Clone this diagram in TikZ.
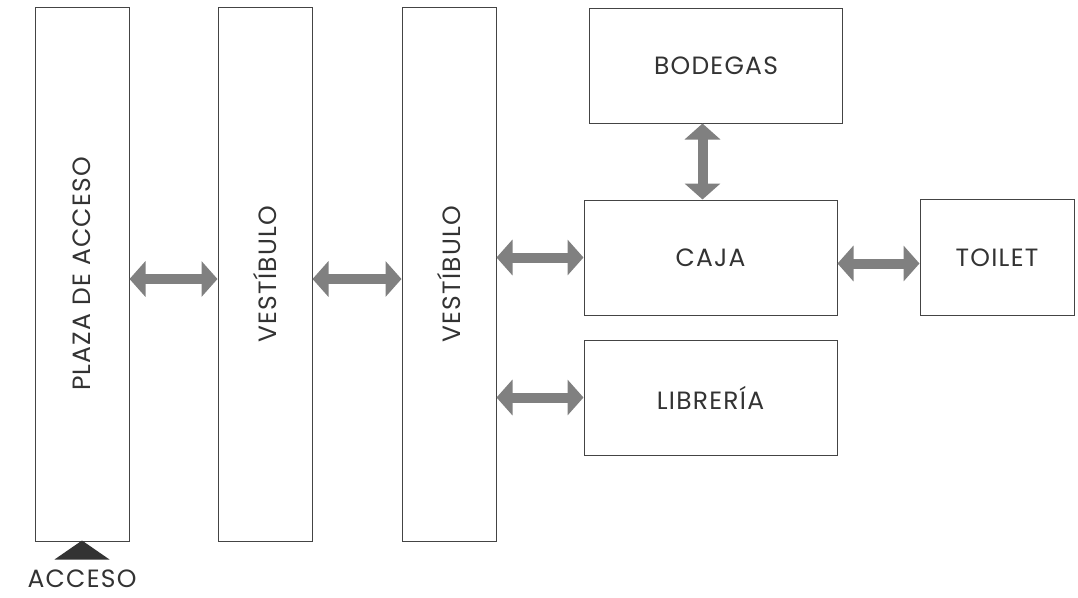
\documentclass[tikz,border=0pt]{standalone}
\usepackage{fontspec}
\setmainfont{Poppins}[LetterSpace=5]
\usepackage{xcolor}
\usepackage{tikz}
\usetikzlibrary{arrows.meta}
\usetikzlibrary{positioning}
\definecolor{linegray}{HTML}{444444}
\definecolor{arrowgray}{HTML}{808080}
\definecolor{textgray}{HTML}{333333}
\tikzstyle{block} = [rectangle, draw=linegray, line width=1pt, inner sep=0pt,
    text=textgray, font=\fontsize{25}{29}\selectfont]
\tikzstyle{hall} = [block, minimum width=94pt, minimum height=534pt]
\tikzstyle{room} = [block, minimum width=253pt, minimum height=115pt]
\tikzstyle{flow} = [draw=arrowgray, line width=10pt,
    {Triangle[length=16pt,width=35pt]}-{Triangle[length=16pt,width=35pt]}]

\begin{document}
\begin{tikzpicture}[x=1pt, y=-1pt]
  \useasboundingbox (0,0) rectangle (1078,597);
  % Place nodes
  \node [hall] (plaza) at (82,274) {\rotatebox{90}{PLAZA DE ACCESO}};
  \node [hall, right=88pt of plaza] (vest1) {\rotatebox{90}{VESTÍBULO}};
  \node [hall, right=89pt of vest1] (vest2) {\rotatebox{90}{VESTÍBULO}};
  \node [room] (caja) at (710.5,257.5) {CAJA};
  \node [room, below=24pt of caja] (libreria) {LIBRERÍA};
  \node [room, above=76pt of caja, xshift=5.5pt] (bodegas) {BODEGAS};
  \node [block, minimum width=154pt, minimum height=116pt,
         right=82pt of caja] (toilet) {TOILET};
  \node [block, draw=none, below=28pt of plaza] (acceso) {ACCESO};
  \fill [textgray] ([yshift=1pt]plaza.south) -- ++(27.5,19) -- ++(-55,0) -- cycle;
  % Draw edges
  \path [flow] ([yshift=-5pt]plaza.east) -- ([yshift=-5pt]vest1.west);
  \path [flow] ([yshift=-5pt]vest1.east) -- ([yshift=-5pt]vest2.west);
  \path [flow] (vest2.east |- caja.west) -- (caja.west);
  \path [flow] (vest2.east |- libreria.west) -- (libreria.west);
  \path [flow] ([xshift=-8pt]caja.north) -- ([xshift=-8pt]caja.north |- bodegas.south);
  \path [flow] ([yshift=-6pt]caja.east) -- ([yshift=-6pt]caja.east -| toilet.west);
\end{tikzpicture}
\end{document}
